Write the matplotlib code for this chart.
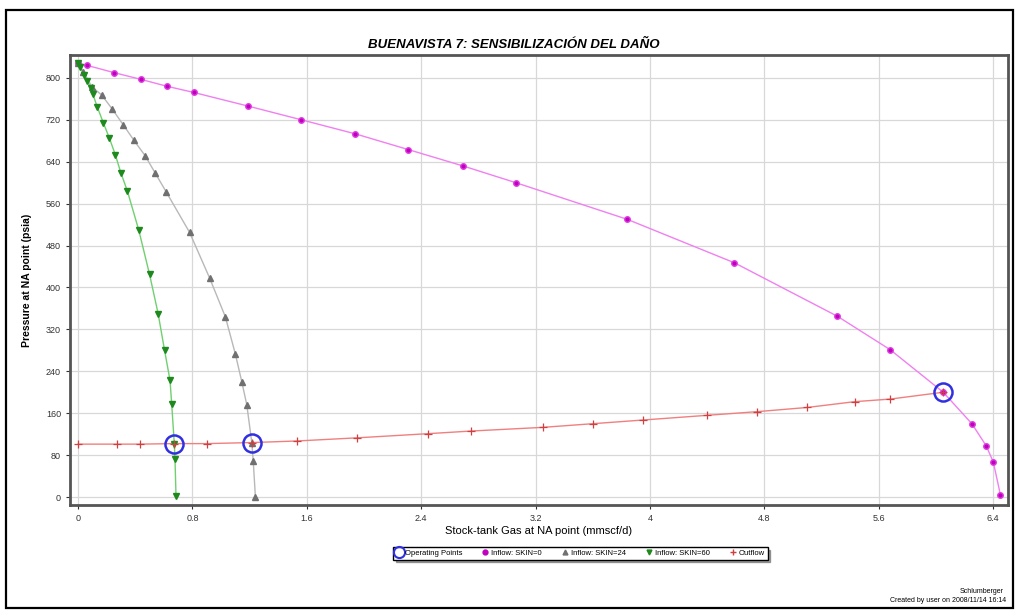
import matplotlib
matplotlib.use("Agg")
import matplotlib.pyplot as plt
from matplotlib.patches import Rectangle

plt.rcParams['font.family'] = ['Liberation Sans', 'DejaVu Sans']

# Inflow curve, SKIN = 0 (gas rate mmscf/d, pressure psia)
skin0_q = [0.00, 0.06, 0.25, 0.44, 0.62, 0.81, 1.19, 1.56, 1.94, 2.31, 2.69, 3.06,
           3.84, 4.59, 5.31, 5.68, 6.05, 6.25, 6.35, 6.40, 6.45]
skin0_p = [828, 824, 810, 797, 784, 772, 746, 720, 693, 663, 632, 600,
           530, 447, 345, 281, 200, 140, 98, 67, 4]

# Inflow curve, SKIN = 24
skin24_q = [0.00, 0.037, 0.096, 0.166, 0.24, 0.317, 0.39, 0.47, 0.54, 0.615,
            0.78, 0.92, 1.03, 1.10, 1.145, 1.18, 1.215, 1.225, 1.24]
skin24_p = [828, 812, 783, 767, 740, 710, 681, 651, 618, 583,
            505, 418, 344, 273, 220, 176, 104, 69, 1]

# Inflow curve, SKIN = 60
skin60_q = [0.00, 0.014, 0.042, 0.065, 0.089, 0.103, 0.135, 0.177, 0.219, 0.261,
            0.299, 0.345, 0.424, 0.50, 0.56, 0.605, 0.643, 0.655, 0.673, 0.678, 0.685]
skin60_p = [828, 821, 805, 793, 781, 769, 744, 714, 685, 653,
            619, 584, 510, 425, 350, 280, 223, 177, 102, 72, 2]

# Outflow (tubing) curve
outflow_q = [0.00, 0.27, 0.43, 0.67, 0.90, 1.215, 1.53, 1.95, 2.45, 2.75, 3.25, 3.60,
             3.95, 4.40, 4.75, 5.10, 5.43, 5.68, 6.05]
outflow_p = [101, 101, 101, 102, 102, 104, 107, 113, 121, 126, 133, 140,
             147, 156, 163, 171, 182, 187, 200]

# Operating points (inflow / outflow intersections)
op_q = [0.673, 1.215, 6.05]
op_p = [102, 104, 200]

x_ticks = [0, 0.8, 1.6, 2.4, 3.2, 4, 4.8, 5.6, 6.4]
x_tick_labels = ["0", "0.8", "1.6", "2.4", "3.2", "4", "4.8", "5.6", "6.4"]
y_ticks = [0, 80, 160, 240, 320, 400, 480, 560, 640, 720, 800]

fig = plt.figure(figsize=(10.18, 6.10), dpi=100)
fig.patch.set_facecolor("white")

# outer frame around the whole chart
fig.add_artist(Rectangle((0.006, 0.004), 0.989, 0.979, transform=fig.transFigure,
                         fill=False, edgecolor="black", linewidth=1.6))

ax = fig.add_axes([0.0688, 0.172, 0.9214, 0.7378])
ax.set_xlim(-0.056, 6.503)
ax.set_ylim(-15.3, 843.5)

ax.grid(True, color="#d8d8d8", linewidth=0.9, zorder=0)
ax.set_axisbelow(True)

ax.plot(skin0_q, skin0_p, color="#f080f0", linewidth=1.0, zorder=2)
ax.plot(skin0_q, skin0_p, linestyle="none", marker="o", markersize=4,
        color="#c000c0", markeredgecolor="#e040e0", zorder=3)

ax.plot(skin24_q, skin24_p, color="#b8b8b8", linewidth=1.0, zorder=2)
ax.plot(skin24_q, skin24_p, linestyle="none", marker="^", markersize=4.5,
        color="#707070", zorder=3)

ax.plot(skin60_q, skin60_p, color="#70d070", linewidth=1.0, zorder=2)
ax.plot(skin60_q, skin60_p, linestyle="none", marker="v", markersize=5,
        color="#1e8a1e", zorder=3)

ax.plot(outflow_q, outflow_p, color="#f08080", linewidth=1.0, zorder=2)
ax.plot(outflow_q, outflow_p, linestyle="none", marker="+", markersize=6,
        color="#d04040", markeredgewidth=0.9, zorder=3)

ax.plot(op_q, op_p, linestyle="none", marker="o", markersize=13, markerfacecolor="none",
        markeredgecolor="#3030e0", markeredgewidth=1.8, zorder=4)

ax.set_xticks(x_ticks)
ax.set_xticklabels(x_tick_labels)
ax.set_yticks(y_ticks)
ax.tick_params(labelsize=6.5, length=3, width=0.8, colors="#333333")
for s in ax.spines.values():
    s.set_color("#555555")
    s.set_linewidth(2.0)

ax.set_xlabel("Stock-tank Gas at NA point (mmscf/d)", fontsize=8, labelpad=2)
ax.set_ylabel("Pressure at NA point (psia)", fontsize=7.5, fontweight="bold", labelpad=10)
fig.text(0.505, 0.927, "BUENAVISTA 7: SENSIBILIZACIÓN DEL DAÑO", ha="center", va="center",
         fontsize=9.5, fontweight="bold", fontstyle="italic")

# legend
handles = [
    ax.plot([], [], linestyle="none", marker="o", markersize=8, markerfacecolor="none",
            markeredgecolor="#3030e0", markeredgewidth=1.5)[0],
    ax.plot([], [], linestyle="none", marker="o", markersize=3.5, color="#c000c0")[0],
    ax.plot([], [], linestyle="none", marker="^", markersize=3.5, color="#707070")[0],
    ax.plot([], [], linestyle="none", marker="v", markersize=3.5, color="#1e8a1e")[0],
    ax.plot([], [], linestyle="none", marker="+", markersize=4.5, color="#d04040")[0],
]
labels = ["Operating Points", "Inflow: SKIN=0", "Inflow: SKIN=24", "Inflow: SKIN=60", "Outflow"]
leg = fig.legend(handles, labels, loc="center", bbox_to_anchor=(0.570, 0.093), ncol=5,
                 fontsize=5.5, frameon=True, fancybox=False, shadow=True, handlelength=0.8,
                 handletextpad=0.4, columnspacing=2.6, borderpad=0.35)
leg.get_frame().set_edgecolor("black")
leg.get_frame().set_linewidth(1.0)

fig.text(0.986, 0.031, "Schlumberger", ha="right", va="center", fontsize=5)
fig.text(0.988, 0.016, "Created by user on 2008/11/14 16:14", ha="right", va="center", fontsize=5)

fig.savefig("out.png", dpi=100)
